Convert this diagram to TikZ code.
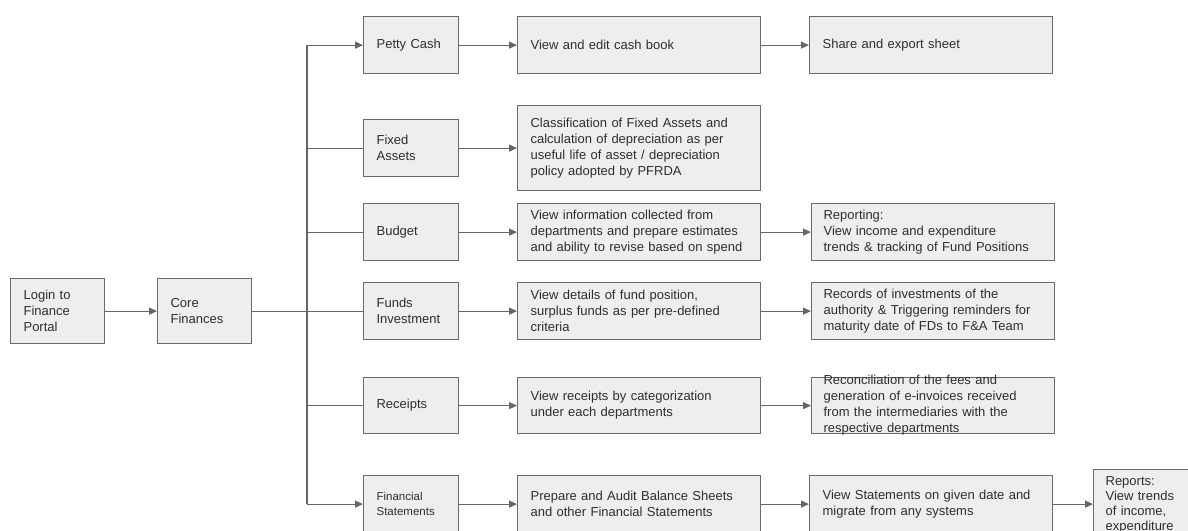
\documentclass[tikz,border=0pt]{standalone}
\usepackage{fontspec}
\setmainfont{Liberation Sans}
\usetikzlibrary{arrows.meta}
\definecolor{boxfill}{HTML}{EEEEEE}
\definecolor{boxline}{HTML}{6A6A6A}
\definecolor{wire}{HTML}{666666}
\definecolor{ink}{HTML}{2E2E2E}
\tikzset{
  card/.style={draw=boxline, fill=boxfill, line width=1.2pt, anchor=north west,
    inner xsep=13pt, inner ysep=0pt, align=left, text=ink,
    font=\fontsize{13}{16}\selectfont},
  loose/.style={align=left, text=ink, inner sep=0pt, font=\fontsize{13}{16}\selectfont},
  link/.style={draw=wire, line width=1.2pt},
  flow/.style={link, -{Triangle[length=8pt,width=7pt]}},
}
\begin{document}
\begin{tikzpicture}[x=1pt, y=-1pt]
\useasboundingbox (0,0) rectangle (1188,530);
\fill[white] (0,0) rectangle (1188,530);

% entry
\node[card, text width=68pt, minimum height=65pt] (login) at (10,278) {Login to\\Finance\\Portal};
\node[card, text width=68pt, minimum height=65pt] (core) at (157,278) {Core\\Finances};

% modules
\node[card, text width=69pt, minimum height=57pt] (petty) at (363,16) {Petty Cash};
\node[card, text width=69pt, minimum height=57pt] (fixed) at (363,119) {Fixed\\Assets};
\node[card, text width=69pt, minimum height=57pt] (budget) at (363,203) {Budget};
\node[card, text width=69pt, minimum height=57pt] (funds) at (363,282) {Funds\\Investment};
\node[card, text width=69pt, minimum height=56pt] (receipts) at (363,377) {Receipts};
\node[card, text width=69pt, minimum height=57pt, font=\fontsize{11.5}{15}\selectfont] (finstat) at (363,475) {Financial\\Statements};

% first-level functions
\node[card, text width=217pt, minimum height=57pt] (cash) at (517,16) {View and edit cash book};
\node[card, text width=217pt, minimum height=85pt] (classif) at (517,105) {Classification of Fixed Assets and\\calculation of depreciation as per\\useful life of asset / depreciation\\policy adopted by PFRDA};
\node[card, text width=217pt, minimum height=57pt] (budgetinfo) at (517,203) {View information collected from\\departments and prepare estimates\\and ability to revise based on spend};
\node[card, text width=217pt, minimum height=57pt] (fundinfo) at (517,282) {View details of fund position,\\surplus funds as per pre-defined\\criteria};
\node[card, text width=217pt, minimum height=56pt] (receiptinfo) at (517,377) {View receipts by categorization\\under each departments};
\node[card, text width=217pt, minimum height=57pt] (prepare) at (517,475) {Prepare and Audit Balance Sheets\\and other Financial Statements};

% second-level functions
\node[card, text width=217pt, minimum height=57pt] (share) at (809,16) {Share and export sheet};
\node[card, text width=219pt, minimum height=57pt, inner xsep=12pt] (reporting) at (811,203) {Reporting:\\View income and expenditure\\trends \& tracking of Fund Positions};
\node[card, text width=219pt, minimum height=57pt, inner xsep=12pt] (records) at (811,282) {Records of investments of the\\authority \& Triggering reminders for\\maturity date of FDs to F\&A Team};
% this box keeps its size; its four lines run over its edges
\node[card, text width=219pt, minimum height=56pt, inner xsep=12pt] (recon) at (811,377) {};
\node[loose, text width=219pt] (recontext) at (recon.center) {Reconciliation of the fees and\\generation of e-invoices received\\from the intermediaries with the\\respective departments};
\node[card, text width=217pt, minimum height=57pt] (viewstat) at (809,475) {View Statements on given date and\\migrate from any systems};
\node[card, text width=86pt, minimum height=71pt, inner xsep=12pt, font=\fontsize{13}{15}\selectfont] (reports) at (1093,469) {Reports:\\View trends\\of income,\\expenditure};

% connectors
\coordinate (trunk) at (307,0);
\draw[flow] (login.east) -- (core.west);
\draw[link] (core.east) -- (core.east -| trunk);
\draw[flow] (trunk |- finstat.west) -- (trunk |- petty.west) -- (petty.west);
\draw[flow] (trunk |- finstat.west) -- (finstat.west);
\draw[link] (trunk |- fixed.west) -- (fixed.west);
\draw[link] (trunk |- budget.west) -- (budget.west);
\draw[link] (trunk |- funds.west) -- (funds.west);
\draw[link] (trunk |- receipts.west) -- (receipts.west);

\draw[flow] (petty.east) -- (cash.west);
\draw[flow] (fixed.east) -- (classif.west);
\draw[flow] (budget.east) -- (budgetinfo.west);
\draw[flow] (funds.east) -- (fundinfo.west);
\draw[flow] (receipts.east) -- (receiptinfo.west);
\draw[flow] (finstat.east) -- (prepare.west);

\draw[flow] (cash.east) -- (share.west);
\draw[flow] (budgetinfo.east) -- (reporting.west);
\draw[flow] (fundinfo.east) -- (records.west);
\draw[flow] (receiptinfo.east) -- (recon.west);
\draw[flow] (prepare.east) -- (viewstat.west);
\draw[flow] (viewstat.east) -- (viewstat.east -| reports.west);
\end{tikzpicture}
\end{document}
